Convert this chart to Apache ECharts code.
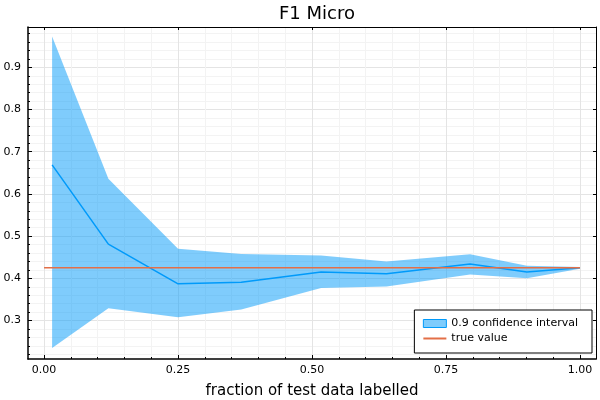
<!DOCTYPE html>
<html>
<head>
<meta charset="utf-8">
<script src="https://cdn.jsdelivr.net/npm/echarts@6/dist/echarts.min.js"></script>
<style>
  html, body { margin: 0; padding: 0; background: #fff; }
  #chart { width: 600px; height: 400px; }
</style>
</head>
<body>
<div id="chart"></div>
<script>
// fraction of test data labelled
var xs = [0.015, 0.12, 0.25, 0.368, 0.517, 0.639, 0.795, 0.901, 1.0];
var meanF1 = [0.669, 0.481, 0.387, 0.391, 0.415, 0.411, 0.434, 0.415, 0.425];
var upperF1 = [0.973, 0.636, 0.470, 0.458, 0.454, 0.440, 0.457, 0.430, 0.427];
var lowerF1 = [0.235, 0.329, 0.308, 0.326, 0.377, 0.381, 0.409, 0.400, 0.423];
var trueValue = 0.425;
var trueX = [0, 1];

var xTicks = [0, 0.25, 0.5, 0.75, 1];
var xMinor = [0.05, 0.1, 0.15, 0.2, 0.3, 0.35, 0.4, 0.45, 0.55, 0.6, 0.65, 0.7, 0.8, 0.85, 0.9, 0.95];
var yTicks = [0.3, 0.4, 0.5, 0.6, 0.7, 0.8, 0.9];
var yMinor = [0.22, 0.24, 0.26, 0.28, 0.32, 0.34, 0.36, 0.38, 0.42, 0.44, 0.46, 0.48,
  0.52, 0.54, 0.56, 0.58, 0.62, 0.64, 0.66, 0.68, 0.72, 0.74, 0.76, 0.78,
  0.82, 0.84, 0.86, 0.88, 0.92, 0.94, 0.96, 0.98];

var X_MIN = -0.03, X_MAX = 1.03, Y_MIN = 0.209, Y_MAX = 0.9955;
var font = 'DejaVu Sans';
var blue = '#009AFA', red = '#E36F47';
var bandFill = 'rgba(0,154,250,0.5)';

function pairs(xv, yv) {
  return xv.map(function (x, i) { return [x, yv[i]]; });
}

function xAxisOf(opt) {
  return Object.assign({
    type: 'value', min: X_MIN, max: X_MAX,
    axisLine: { show: false, onZero: false },
    axisLabel: { show: false },
    axisTick: { show: false },
    splitLine: { show: false }
  }, opt);
}
function yAxisOf(opt) {
  return Object.assign({
    type: 'value', min: Y_MIN, max: Y_MAX,
    axisLine: { show: false, onZero: false },
    axisLabel: { show: false },
    axisTick: { show: false },
    splitLine: { show: false }
  }, opt);
}

// confidence band: one polygon, upper edge forward then lower edge back
function renderBand(params, api) {
  if (params.dataIndex !== 0) return;
  var pts = [];
  for (var i = 0; i < xs.length; i++) pts.push(api.coord([xs[i], upperF1[i]]));
  for (var j = xs.length - 1; j >= 0; j--) pts.push(api.coord([xs[j], lowerF1[j]]));
  return {
    type: 'polygon',
    shape: { points: pts },
    style: { fill: bandFill, stroke: null }
  };
}

var chart = echarts.init(document.getElementById('chart'));
var option = {
  animation: false,
  backgroundColor: '#fff',
  title: {
    text: 'F1 Micro',
    left: 312, top: 0, textAlign: 'center',
    textStyle: { fontFamily: font, fontSize: 18, fontWeight: 'normal', color: '#000' }
  },
  grid: { left: 28, right: 4, top: 27, bottom: 41, containLabel: false, outerBoundsMode: 'none' },
  legend: {
    orient: 'vertical',
    right: 8, bottom: 47,
    backgroundColor: '#fff',
    borderColor: '#000', borderWidth: 1,
    padding: [7, 14, 8, 8],
    itemGap: 2,
    itemWidth: 23, itemHeight: 8,
    textStyle: { fontFamily: font, fontSize: 11, color: '#000', lineHeight: 13 },
    data: [
      { name: '0.9 confidence interval', icon: 'rect',
        itemStyle: { color: bandFill, borderColor: blue, borderWidth: 1 } },
      { name: 'true value',
        itemStyle: { color: 'rgba(0,0,0,0)', borderColor: 'rgba(0,0,0,0)', borderWidth: 0 } }
    ]
  },
  xAxis: [
    xAxisOf({
      position: 'bottom',
      name: 'fraction of test data labelled',
      nameLocation: 'middle', nameGap: 25,
      nameTextStyle: { fontFamily: font, fontSize: 15, color: '#000' },
      axisLine: { show: true, onZero: false, lineStyle: { color: '#000', width: 1.5 } },
      axisTick: { show: true, inside: true, length: 4, customValues: xTicks, lineStyle: { color: '#000' } },
      axisLabel: { show: true, customValues: xTicks, margin: 6, fontFamily: font, fontSize: 11, color: '#000',
        formatter: function (v) { return v.toFixed(2); } },
      splitLine: { show: true, lineStyle: { color: '#e4e4e4', width: 1 } }
    }),
    xAxisOf({
      position: 'top',
      axisLine: { show: true, onZero: false, lineStyle: { color: '#000', width: 1 } },
      axisTick: { show: true, inside: true, length: 3, customValues: xTicks, lineStyle: { color: '#000' } }
    }),
    xAxisOf({
      position: 'bottom',
      axisTick: { show: true, inside: true, length: 2, customValues: xMinor, lineStyle: { color: '#000' } },
      splitLine: { show: true, lineStyle: { color: '#f3f3f3', width: 1 } }
    })
  ],
  yAxis: [
    yAxisOf({
      position: 'left',
      axisLine: { show: true, onZero: false, lineStyle: { color: '#000', width: 1.5 } },
      axisTick: { show: true, inside: true, length: 4, customValues: yTicks, lineStyle: { color: '#000' } },
      axisLabel: { show: true, customValues: yTicks, margin: 7, fontFamily: font, fontSize: 11, color: '#000',
        formatter: function (v) { return v.toFixed(1); } },
      splitLine: { show: true, lineStyle: { color: '#e4e4e4', width: 1 } }
    }),
    yAxisOf({
      position: 'right',
      axisLine: { show: true, onZero: false, lineStyle: { color: '#000', width: 1 } },
      axisTick: { show: true, inside: true, length: 3, customValues: yTicks, lineStyle: { color: '#000' } }
    }),
    yAxisOf({
      position: 'left',
      axisTick: { show: true, inside: true, length: 2, customValues: yMinor, lineStyle: { color: '#000' } },
      splitLine: { show: true, lineStyle: { color: '#f3f3f3', width: 1 } }
    })
  ],
  series: [
    {
      name: '0.9 confidence interval', type: 'custom',
      data: xs.map(function (x, i) { return [x, lowerF1[i], upperF1[i]]; }),
      encode: { x: 0, y: [1, 2] },
      renderItem: renderBand,
      itemStyle: { color: bandFill },
      clip: true, silent: true
    },
    {
      name: 'mean', type: 'line',
      data: pairs(xs, meanF1),
      symbol: 'none',
      lineStyle: { color: blue, width: 1.5 }
    },
    {
      name: 'true value', type: 'line',
      data: trueX.map(function (x) { return [x, trueValue]; }),
      symbol: 'none',
      itemStyle: { color: red },
      lineStyle: { color: red, width: 1.5 }
    }
  ]
};
chart.setOption(option);
</script>
</body>
</html>
